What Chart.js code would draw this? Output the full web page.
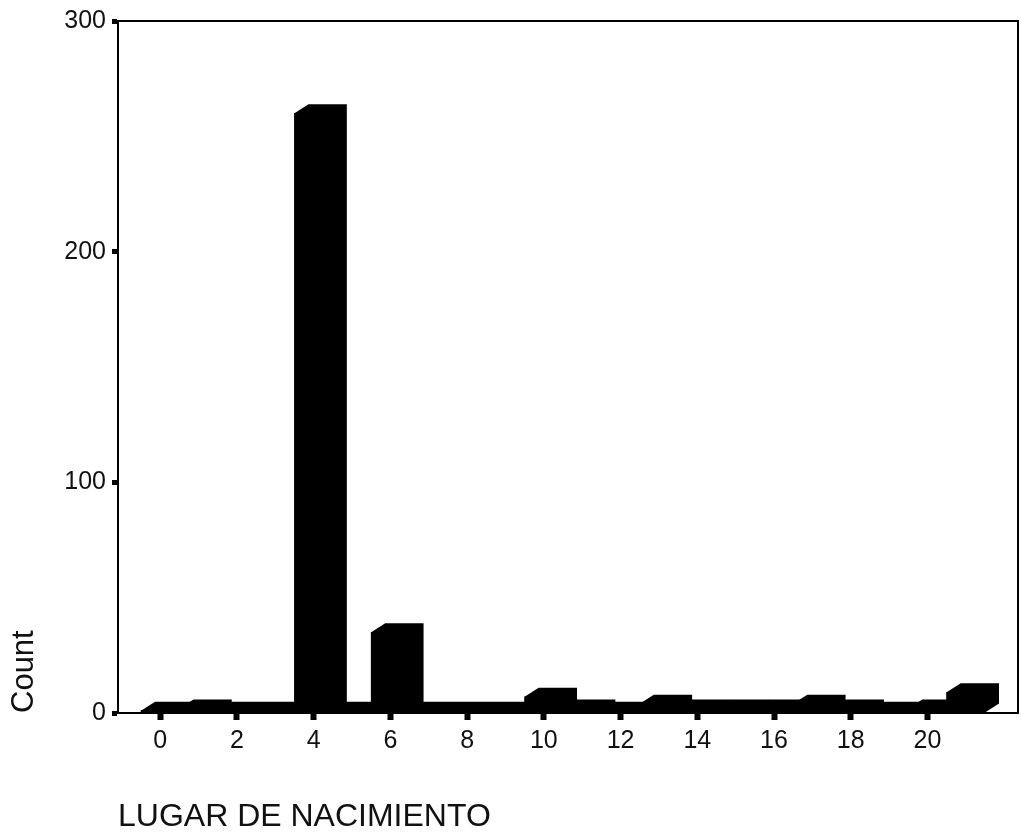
<!DOCTYPE html>
<html>
<head>
<meta charset="utf-8">
<script src="https://cdn.jsdelivr.net/npm/chart.js@4.4.1/dist/chart.umd.min.js"></script>
<style>
  html, body { margin: 0; padding: 0; background: #fff; }
  #wrap { width: 1021px; height: 840px; }
</style>
</head>
<body>
<div id="wrap"><canvas id="chart"></canvas></div>
<script>
// birthplace codes and their counts
const lugarCodes = [0, 1, 2, 3, 4, 5, 6, 7, 8, 9, 10, 11, 12, 13, 14, 15, 16, 17, 18, 19, 20, 21];
const counts     = [1, 2, 1, 1, 260, 1, 35, 1, 1, 1, 7, 2, 1, 4, 2, 2, 2, 4, 2, 1, 2, 9];
const xTickValues = [0, 2, 4, 6, 8, 10, 12, 14, 16, 18, 20];
const yTickValues = [0, 100, 200, 300];

const FONT = '"Liberation Sans", Arial, sans-serif';
const INK = '#111';

// SPSS-style extruded bars: front face + top/side depth
const DEPTH_X = 14, DEPTH_Y = 9;
const box3d = {
  id: 'box3d',
  afterDatasetsDraw(chart) {
    const ctx = chart.ctx;
    const meta = chart.getDatasetMeta(0);
    ctx.save();
    ctx.fillStyle = '#000';
    meta.data.forEach(el => {
      const { x, y, base, width } = el.getProps(['x', 'y', 'base', 'width'], true);
      const l = x - width / 2, r = x + width / 2;
      ctx.beginPath();
      ctx.moveTo(l, base);
      ctx.lineTo(l, y);
      ctx.lineTo(l + DEPTH_X, y - DEPTH_Y);
      ctx.lineTo(r + DEPTH_X, y - DEPTH_Y);
      ctx.lineTo(r + DEPTH_X, base - DEPTH_Y);
      ctx.lineTo(r, base);
      ctx.closePath();
      ctx.fill();
    });
    ctx.restore();
  }
};

const frame = {
  id: 'frame',
  afterDraw(chart) {
    const { left, top, right, bottom } = chart.chartArea;
    const ctx = chart.ctx;
    ctx.save();
    ctx.strokeStyle = '#000';
    ctx.lineWidth = 2;
    ctx.strokeRect(left, top, right - left, bottom - top);
    ctx.restore();
  }
};

new Chart(document.getElementById('chart'), {
  type: 'bar',
  data: {
    datasets: [{
      label: 'Count',
      data: lugarCodes.map((c, i) => ({ x: c, y: counts[i] })),
      backgroundColor: '#000',
      barPercentage: 1,
      categoryPercentage: 1,
    }]
  },
  plugins: [box3d, frame],
  options: {
    responsive: true, maintainAspectRatio: false,
    animation: false,
    layout: { padding: { left: 0, right: 3, top: 14, bottom: 0 } },
    plugins: { legend: { display: false }, tooltip: { enabled: false } },
    scales: {
      x: {
        type: 'linear', min: -1.1, max: 22.36, offset: false,
        afterBuildTicks(scale) { scale.ticks = xTickValues.map(v => ({ value: v })); },
        afterFit(scale) { scale.height = 127; },
        grid: { offset: false, drawOnChartArea: false, tickLength: 7, tickWidth: 6, tickColor: '#000' },
        border: { display: true, color: '#000', width: 2 },
        ticks: { color: INK, font: { family: FONT, size: 25 }, padding: 6, maxRotation: 0 },
        title: {
          display: true, text: 'LUGAR DE NACIMIENTO', align: 'start',
          color: INK, font: { family: FONT, size: 32 }, padding: { top: 41 }
        }
      },
      y: {
        min: 0, max: 300,
        afterBuildTicks(scale) { scale.ticks = yTickValues.map(v => ({ value: v })); },
        afterFit(scale) { scale.width = 118; },
        grid: { drawOnChartArea: false, tickLength: 6, tickWidth: 5, tickColor: '#000' },
        border: { display: true, color: '#000', width: 2 },
        ticks: { color: INK, font: { family: FONT, size: 25 }, padding: 6 },
        title: {
          display: true, text: 'Count', align: 'start',
          color: INK, font: { family: FONT, size: 31 }, padding: { top: 6 }
        }
      }
    }
  }
});
</script>
</body>
</html>
